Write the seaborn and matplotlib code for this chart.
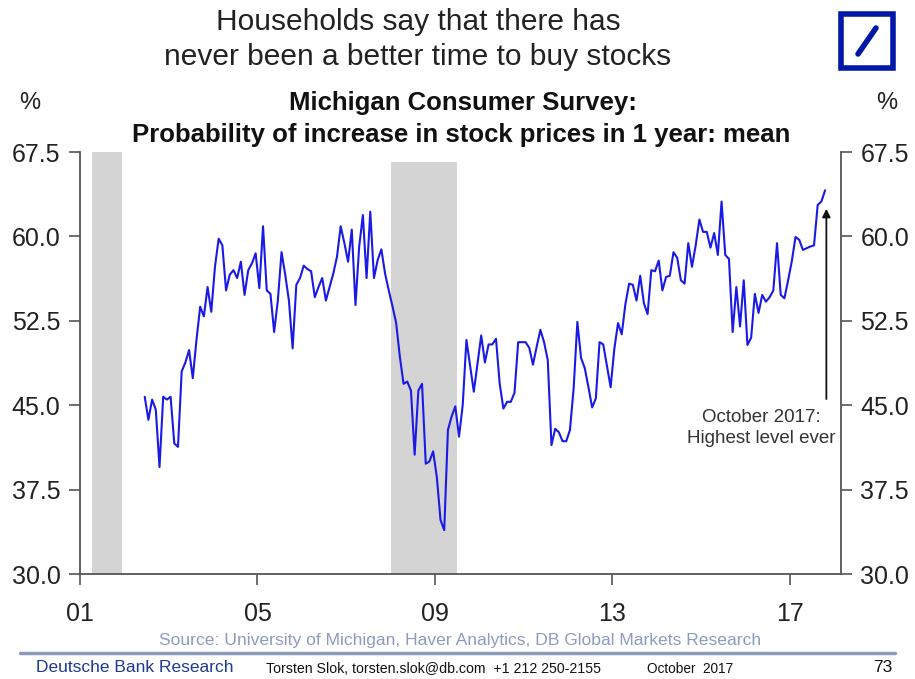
import numpy as np
import pandas as pd
import matplotlib
matplotlib.use("Agg")
import matplotlib.pyplot as plt
import seaborn as sns
from matplotlib.patches import Rectangle
from matplotlib.lines import Line2D

# ---------------- data (monthly, Jun 2002 - Oct 2017) ----------------
v2002 = [45.75, 43.7, 45.5, 44.6, 39.5, 45.75, 45.5]
v2003 = [45.75, 41.6, 41.3, 48.0, 48.8, 49.9, 47.4, 50.8, 53.75, 52.9, 55.5, 53.3]
v2004 = [57.3, 59.8, 59.2, 55.2, 56.6, 57.0, 56.3, 57.75, 54.8, 57.0, 57.6, 58.5]
v2005 = [55.4, 60.9, 55.2, 54.9, 51.5, 54.3, 58.6, 56.6, 54.3, 50.05, 55.7, 56.3]
v2006 = [57.4, 57.1, 56.9, 54.6, 55.5, 56.3, 54.3, 55.5, 56.7, 58.2, 60.9, 59.4]
v2007 = [57.75, 60.6, 53.9, 59.1, 61.9, 56.3, 62.2, 56.3, 57.9, 58.85, 56.7, 55.2]
v2008 = [53.8, 52.3, 49.3, 46.9, 47.1, 46.3, 40.6, 46.3, 46.9, 39.8, 40.0, 40.9]
v2009 = [38.6, 34.8, 33.9, 42.8, 44.0, 44.9, 42.2, 45.0, 50.8, 48.5, 46.2, 48.7]
v2010 = [51.2, 48.8, 50.4, 50.4, 50.9, 46.9, 44.7, 45.3, 45.3, 46.1, 50.6, 50.6]
v2011 = [50.6, 50.1, 48.6, 50.2, 51.7, 50.6, 49.0, 41.45, 42.9, 42.6, 41.8, 41.8]
v2012 = [42.8, 46.5, 52.4, 49.2, 48.3, 46.6, 44.8, 45.6, 50.6, 50.4, 48.5, 46.6]
v2013 = [50.0, 52.3, 51.3, 54.0, 55.8, 55.7, 54.3, 56.5, 54.05, 53.1, 57.0, 56.9]
v2014 = [57.85, 55.2, 56.4, 56.5, 58.6, 58.1, 56.1, 55.8, 59.4, 57.3, 59.2, 61.5]
v2015 = [60.4, 60.4, 59.0, 60.3, 58.35, 63.1, 58.35, 58.0, 51.5, 55.5, 52.0, 56.1]
v2016 = [50.35, 51.0, 54.9, 53.2, 54.8, 54.2, 54.6, 55.2, 59.4, 54.8, 54.5, 56.1]
v2017 = [57.8, 59.95, 59.7, 58.8, 58.95, 59.1, 59.2, 62.8, 63.1, 64.1]

values = (v2002 + v2003 + v2004 + v2005 + v2006 + v2007 + v2008 + v2009 +
          v2010 + v2011 + v2012 + v2013 + v2014 + v2015 + v2016 + v2017)
dates = pd.date_range("2002-06-01", periods=len(values), freq="MS")

# recessions (decimal years) and shading top
rec_start = [2001.27, 2008.0]
rec_end = [2001.95, 2009.5]
rec_top = [67.5, 66.6]

yticks = [30.0, 37.5, 45.0, 52.5, 60.0, 67.5]
xtick_years = [2001, 2005, 2009, 2013, 2017]
xtick_labels = ["01", "05", "09", "13", "17"]

# ---------------- figure ----------------
sns.set_theme(style="white")
plt.rcParams["font.family"] = ["Liberation Sans", "DejaVu Sans"]

W, H = 915, 679
fig = plt.figure(figsize=(W / 100, H / 100), dpi=100)
fig.patch.set_facecolor("white")

def fx(px):
    return px / W

def fy(py):
    return 1 - py / H

ax = fig.add_axes([fx(80), fy(574), fx(841) - fx(80), fy(152) - fy(574)])

df = pd.DataFrame({"x": dates.year + (dates.month - 0.5) / 12.0, "value": values})

for s, e, t in zip(rec_start, rec_end, rec_top):
    ax.fill_between([s, e], [30, 30], [t, t], color="#d4d4d4", lw=0, zorder=0)

sns.lineplot(data=df, x="x", y="value", ax=ax, color="#1a1ae6", lw=1.5, zorder=3)

ax.set_xlim(2001, 2018.15)
ax.set_ylim(30, 67.5)
ax.set_xticks(xtick_years)
ax.set_xticklabels(xtick_labels)
ax.set_yticks(yticks)
ax.set_yticklabels([f"{t:.1f}" for t in yticks])
ax.set_xlabel("")
ax.set_ylabel("")

for sp in ["left", "right", "bottom"]:
    ax.spines[sp].set_visible(True)
    ax.spines[sp].set_color("#555555")
    ax.spines[sp].set_linewidth(1.3)
ax.spines["top"].set_visible(False)

ax.tick_params(axis="y", which="both", left=True, right=True, labelleft=True,
               labelright=True, direction="out", length=8, width=1.2,
               color="#555555", labelsize=18, pad=6, labelcolor="#222222")
ax.tick_params(axis="x", bottom=True, direction="out", length=8, width=1.2,
               color="#555555", labelsize=18, pad=12, labelcolor="#222222")

# annotation
ax.annotate("", xy=(2017.82, 62.7), xytext=(2017.82, 45.3),
            arrowprops=dict(arrowstyle="-|>", color="#111111", lw=1.3,
                            mutation_scale=12), zorder=4)
ax.text(2016.36, 43.0, "October 2017:\nHighest level ever", ha="center",
        va="center", fontsize=13.5, color="#333333", linespacing=1.3)

# ---------------- titles and texts ----------------
fig.text(fx(418), fy(22), "Households say that there has", ha="center",
         va="center", fontsize=21.5, color="#222222")
fig.text(fx(418), fy(57), "never been a better time to buy stocks", ha="center",
         va="center", fontsize=21.5, color="#222222")
fig.text(fx(463), fy(103), "Michigan Consumer Survey:", ha="center", va="center",
         fontsize=18.5, fontweight="bold", color="#111111")
fig.text(fx(461), fy(135), "Probability of increase in stock prices in 1 year: mean",
         ha="center", va="center", fontsize=18.5, fontweight="bold", color="#111111")
fig.text(fx(30), fy(103), "%", ha="center", va="center", fontsize=17, color="#222222")
fig.text(fx(887), fy(103), "%", ha="center", va="center", fontsize=17, color="#222222")

fig.text(fx(460), fy(640), "Source: University of Michigan, Haver Analytics, DB Global Markets Research",
         ha="center", va="center", fontsize=12.6, color="#8c9cc0")
fig.add_artist(Line2D([fx(20), fx(895)], [fy(653), fy(653)], color="#8c9cb8", lw=2.5))
fig.text(fx(36), fy(668), "Deutsche Bank Research", ha="left", va="center",
         fontsize=12.5, color="#1f3a93")
fig.text(fx(266), fy(669), "Torsten Slok, torsten.slok@db.com  +1 212 250-2155",
         ha="left", va="center", fontsize=10.2, color="#111111")
fig.text(fx(647), fy(669), "October  2017", ha="left", va="center",
         fontsize=9.8, color="#111111")
fig.text(fx(892), fy(668), "73", ha="right", va="center", fontsize=12.5,
         color="#111111")

# logo
fig.add_artist(Rectangle((fx(841), fy(68)), fx(893) - fx(841), fy(14) - fy(68),
                         fill=False, edgecolor="#0018a8", lw=4))
fig.add_artist(Line2D([fx(858), fx(876)], [fy(54), fy(28)], color="#0018a8", lw=4))

fig.savefig("out.png", dpi=100, facecolor="white")
